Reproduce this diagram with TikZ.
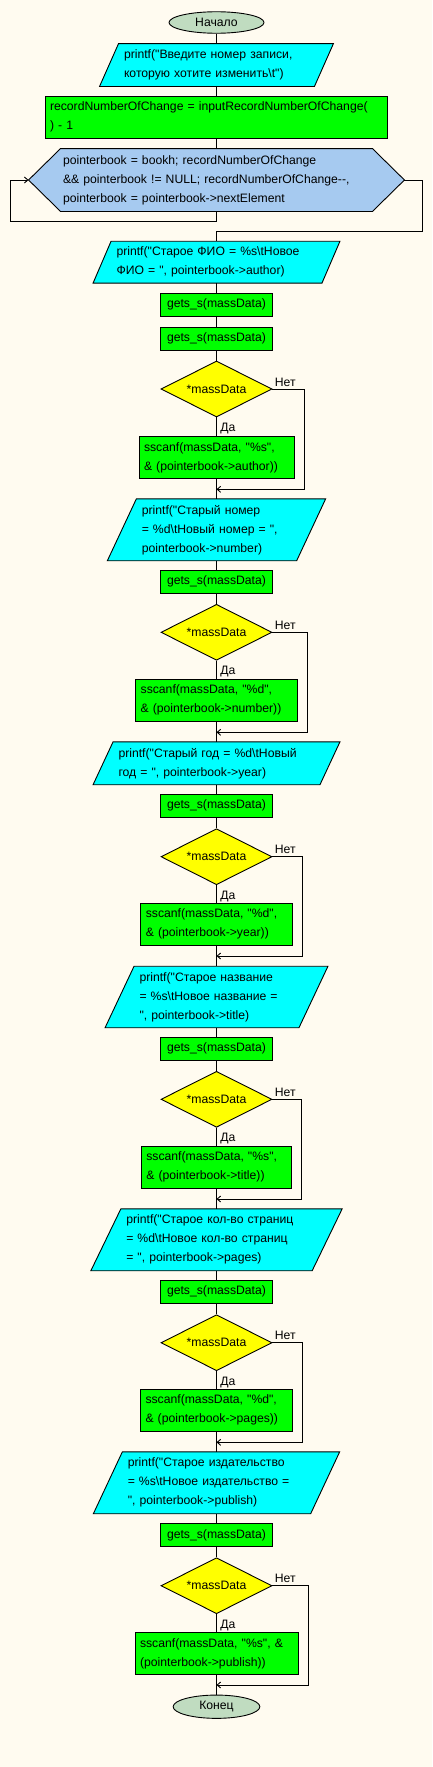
\documentclass[tikz,border=0pt]{standalone}
\usepackage{fontspec}
\newfontfamily\flowfont{Liberation Sans}
\usetikzlibrary{shapes.geometric,arrows.meta,backgrounds}

\definecolor{bgcream}{RGB}{255,251,240}
\definecolor{termgreen}{RGB}{192,220,192}
\definecolor{iocyan}{RGB}{0,255,255}
\definecolor{procgreen}{RGB}{0,255,0}
\definecolor{condyellow}{RGB}{255,255,0}
\definecolor{loopblue}{RGB}{166,202,240}

\tikzset{
    flowbox/.style={inner sep=0pt, line width=0.9pt, text=black,
        font={\flowfont\fontsize{12.2}{19}\selectfont}},
    term/.style={flowbox, draw, ellipse, fill=termgreen},
    proc/.style={flowbox, draw, rectangle, fill=procgreen,
        minimum width=111.6pt, minimum height=22.7pt},
    procl/.style={flowbox, draw, rectangle, fill=procgreen,
        align=left, inner xsep=5pt},
    io/.style={flowbox, rectangle, align=left, inner xsep=5pt},
    cond/.style={flowbox, draw, diamond, aspect=2, fill=condyellow,
        minimum width=111pt, minimum height=56pt},
    lbl/.style={flowbox},
    flow/.style={line width=0.9pt},
    back/.style={flow, -{Straight Barb[length=3.5pt,width=6pt]}}
}

\begin{document}
\begin{tikzpicture}[x=1pt,y=-1pt]
    \useasboundingbox (0,0) rectangle (432,1767);

    % start, input and the counting loop
    \node[term, minimum width=95pt, minimum height=21.5pt] (start) at (216.5,22.5) {Начало};
    \node[io, text width=185pt, minimum height=42pt] (out1) at (216.5,65)
        {printf("Введите номер записи,\\которую хотите изменить\textbackslash t")};
    \node[procl, inner xsep=4.5pt, text width=333pt, minimum height=41.3pt] (calc1) at (216.5,117.3)
        {recordNumberOfChange = inputRecordNumberOfChange(\\) - 1};
    \node[flowbox, align=left, inner xsep=2pt, text width=307pt, minimum height=62pt] (loop) at (216.5,180)
        {pointerbook = bookh; recordNumberOfChange\\
         \&\& pointerbook != NULL; recordNumberOfChange-{}-,\\
         pointerbook = pointerbook->nextElement};

    % author
    \node[io, text width=200pt, minimum height=41pt] (out2) at (216.5,262.2)
        {printf("Старое ФИО = \%s\textbackslash tНовое\\ФИО = ", pointerbook->author)};
    \node[proc] (gets1) at (216.5,304.7) {gets\_s(massData)};
    \node[proc] (gets2) at (216.5,338.7) {gets\_s(massData)};
    \node[cond] (if1) at (216.5,389) {*massData};
    \node[procl, text width=145pt, minimum height=41.6pt] (scan1) at (216.5,457.5)
        {sscanf(massData, "\%s",\\\& (pointerbook->author))};

    % number
    \node[io, text width=149.4pt, minimum height=61pt] (out3) at (216.5,529.8)
        {printf("Старый номер\\= \%d\textbackslash tНовый номер = ",\\pointerbook->number)};
    \node[proc] (gets3) at (216.5,581.8) {gets\_s(massData)};
    \node[cond] (if2) at (216.5,632.3) {*massData};
    \node[procl, text width=151.7pt, minimum height=42pt] (scan2) at (216.5,700.3)
        {sscanf(massData, "\%d",\\\& (pointerbook->number))};

    % year
    \node[io, text width=196pt, minimum height=42pt] (out4) at (216.5,763.3)
        {printf("Старый год = \%d\textbackslash tНовый\\год = ", pointerbook->year)};
    \node[proc] (gets4) at (216.5,805.7) {gets\_s(massData)};
    \node[cond] (if3) at (216.5,856.7) {*massData};
    \node[procl, text width=141.4pt, minimum height=42pt] (scan3) at (216.5,924.3)
        {sscanf(massData, "\%d",\\\& (pointerbook->year))};

    % title
    \node[io, text width=154pt, minimum height=60.6pt] (out5) at (216.5,997)
        {printf("Старое название\\= \%s\textbackslash tНовое название =\\", pointerbook->title)};
    \node[proc] (gets5) at (216.5,1048.7) {gets\_s(massData)};
    \node[cond] (if4) at (216.5,1099.3) {*massData};
    \node[procl, text width=140.4pt, minimum height=41.3pt] (scan4) at (216.5,1167.3)
        {sscanf(massData, "\%s",\\\& (pointerbook->title))};

    % pages
    \node[io, text width=180.4pt, minimum height=61pt] (out6) at (216.5,1239.8)
        {printf("Старое кол-во страниц\\= \%d\textbackslash tНовое кол-во страниц\\= ", pointerbook->pages)};
    \node[proc] (gets6) at (216.5,1291.7) {gets\_s(massData)};
    \node[cond] (if5) at (216.5,1342.7) {*massData};
    \node[procl, text width=142pt, minimum height=41.7pt] (scan5) at (216.5,1410.2)
        {sscanf(massData, "\%d",\\\& (pointerbook->pages))};

    % publisher
    \node[io, text width=177.4pt, minimum height=61pt] (out7) at (216.5,1482.8)
        {printf("Старое издательство\\= \%s\textbackslash tНовое издательство =\\", pointerbook->publish)};
    \node[proc] (gets7) at (216.5,1535) {gets\_s(massData)};
    \node[cond] (if6) at (216.5,1585.7) {*massData};
    \node[procl, text width=153pt, minimum height=41.6pt] (scan6) at (216.5,1653.5)
        {sscanf(massData, "\%s", \&\\(pointerbook->publish))};

    \node[term, minimum width=86.7pt, minimum height=23.3pt] (stop) at (216.5,1706.7) {Конец};

    % slanted and six-sided shapes go behind their texts
    \begin{scope}[on background layer]
        \fill[bgcream] (0,0) rectangle (432,1767);
        \foreach \n/\s in {out1/19,out2/18,out3/29,out4/20,out5/29,out6/30,out7/29}
            \draw[flow, fill=iocyan] ([xshift=-\s pt]\n.south west) -- (\n.south east)
                -- ([xshift=\s pt]\n.north east) -- (\n.north west) -- cycle;
        \draw[flow, fill=loopblue] (loop.north west) -- (loop.north east)
            -- ([xshift=32pt]loop.east) -- (loop.south east) -- (loop.south west)
            -- ([xshift=-32pt]loop.west) -- cycle;
    \end{scope}

    % main line
    \draw[flow] (start) -- (out1) -- (calc1) -- (loop);
    \draw[flow] (out2) -- (gets1) -- (gets2) -- (if1) -- (scan1) -- (out3)
        -- (gets3) -- (if2) -- (scan2) -- (out4) -- (gets4) -- (if3) -- (scan3)
        -- (out5) -- (gets5) -- (if4) -- (scan4) -- (out6) -- (gets6) -- (if5)
        -- (scan5) -- (out7) -- (gets7) -- (if6) -- (scan6) -- (stop);

    % loop return and exit
    \coordinate (lpret) at (10.7,221);
    \coordinate (lpout) at (422,231);
    \draw[back] (loop.south) |- (lpret) |- ([xshift=-32pt]loop.west);
    \draw[flow] ([xshift=32pt]loop.east) -| (lpout) -| (out2);

    % branches of the conditions
    \foreach \i/\rx/\my in {1/304.3/489.3,2/307/732.3,3/302.3/956,
                            4/301.7/1199,5/302.3/1442.3,6/308.3/1685} {
        \node[lbl, anchor=base west] (no\i) at ([shift={(2pt,3pt)}]if\i.east) {Нет};
        \node[lbl, anchor=north west] (yes\i) at ([shift={(3.5pt,-5pt)}]if\i.south) {Да};
        \coordinate (r\i) at (\rx,\my);
        \coordinate (m\i) at (216.5,\my);
        \draw[back] (if\i.east) -| (r\i) -- (m\i);
    }
\end{tikzpicture}
\end{document}
